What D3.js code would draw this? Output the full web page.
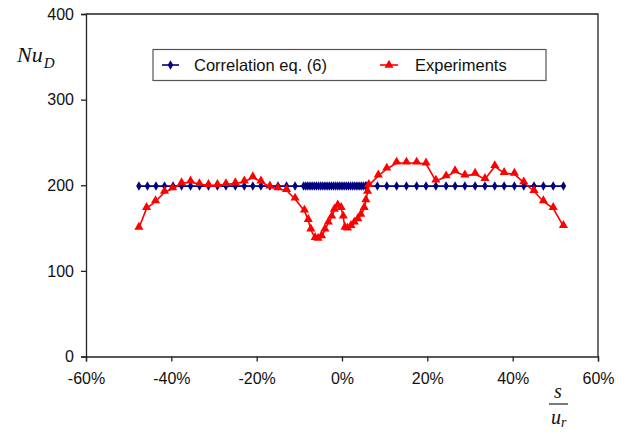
<!DOCTYPE html>
<html>
<head>
<meta charset="utf-8">
<script src="https://cdn.jsdelivr.net/npm/d3@7"></script>
<style>
  body { margin: 0; background: #fff; }
  text { font-family: "Liberation Sans", Arial, sans-serif; }
</style>
</head>
<body>
<div class="canvas"></div>
<script>
// Data (s/u_r in %, Nu_D)
const x_ticks = [-60, -40, -20, 0, 20, 40, 60];
const y_ticks = [0, 100, 200, 300, 400];

const corr_nu = 199;
const corr_x = [-47.6, -45.6, -43.6, -41.6, -39.6, -37.6, -35.5, -33.4, -31.3, -29.2,
  -27.2, -25.0, -22.9, -20.9, -19.0, -16.9, -15.0, -13.0, -11.0, -9.0,
  -8.5, -8.0, -7.5, -7.0, -6.5, -6.0, -5.5, -5.0, -4.5, -4.0, -3.5, -3.0, -2.5, -2.0,
  -1.5, -1.0, -0.5, 0.0, 0.5, 1.0, 1.5, 2.0, 2.5, 3.0, 3.5, 4.0, 4.5, 5.0, 5.5,
  5.8, 8.3, 10.5, 12.8, 15.1, 17.5, 19.7, 22.0, 24.4, 26.5, 28.8, 31.2, 33.5,
  35.8, 38.0, 40.4, 42.6, 45.0, 47.2, 49.5, 51.9];

const exp_x = [-47.6, -45.8, -43.7, -41.6, -39.7, -37.6, -35.5, -33.4, -31.3, -29.2,
  -27.2, -25.0, -22.9, -20.9, -19.0, -16.9, -15.0, -13.0, -11.0,
  -8.8, -7.9, -7.3, -6.3, -5.6, -4.8, -4.0, -3.2, -2.4, -1.8, -1.0, -0.2, 0.3,
  0.7, 1.3, 2.1, 2.9, 3.7, 4.4, 5.2, 5.6, 6.0, 6.3,
  8.5, 10.5, 12.8, 15.1, 17.5, 19.7, 22.0, 24.4, 26.5, 28.8, 31.2, 33.5,
  35.8, 38.0, 40.4, 42.6, 45.0, 47.2, 49.5, 51.9];
const exp_nu = [150, 173, 181, 192, 196, 202, 204, 201, 200, 200,
  201, 202, 204, 209, 204, 198, 196, 194, 184,
  170, 159, 148, 138, 137, 140, 148, 156, 163, 171, 176, 173, 163,
  150, 149, 152, 156, 160, 165, 173, 182, 192, 200,
  211, 219, 226, 226, 226, 225, 205, 210, 216, 211, 213, 207,
  222, 214, 213, 203, 193, 181, 173, 152];

const series_names = ["Correlation eq. (6)", "Experiments"];
const blue = "#000080";
const red = "#ff0000";
const ink = "#111";

// Layout
const chart_w = 624, chart_h = 432;
const plot_left = 86, plot_right = 598, plot_top = 14, plot_bottom = 356.5;

const svg = d3.select(".canvas").append("svg")
  .attr("width", chart_w)
  .attr("height", chart_h);

const xScale = d3.scaleLinear().domain([-60, 60]).range([plot_left, plot_right]);
const yScale = d3.scaleLinear().domain([0, 400]).range([plot_bottom, plot_top]);

// frame (top + right)
svg.append("path")
  .attr("d", `M${plot_left},${plot_top}H${plot_right}V${plot_bottom}`)
  .attr("fill", "none")
  .attr("stroke", "#222")
  .attr("stroke-width", 1.3);

// axes
const xAxis = svg.append("g")
  .attr("transform", `translate(0,${plot_bottom})`)
  .call(d3.axisBottom(xScale).tickValues(x_ticks).tickSize(5).tickPadding(11)
    .tickFormat(d => d + "%"));

const yAxis = svg.append("g")
  .attr("transform", `translate(${plot_left},0)`)
  .call(d3.axisLeft(yScale).tickValues(y_ticks).tickSize(5).tickPadding(7));

[xAxis, yAxis].forEach(function(a) {
  a.select(".domain").attr("stroke", "#222").attr("stroke-width", 1.3);
  a.selectAll(".tick line").attr("stroke", "#222").attr("stroke-width", 1.3);
  a.selectAll(".tick text")
    .attr("font-size", "16px")
    .attr("fill", ink)
    .style("font-family", '"Liberation Sans", Arial, sans-serif');
});

// lines
const line = d3.line().x(d => xScale(d[0])).y(d => yScale(d[1]));
const corr_pts = corr_x.map(x => [x, corr_nu]);
const exp_pts = exp_x.map((x, i) => [x, exp_nu[i]]);

const diamond = d3.symbol().type(d3.symbolDiamond).size(26);
const triangle = d3.symbol().type(d3.symbolTriangle).size(36);

svg.append("path")
  .attr("d", line(corr_pts))
  .attr("fill", "none")
  .attr("stroke", blue)
  .attr("stroke-width", 1.6);

svg.append("g")
  .selectAll("path")
  .data(corr_pts)
  .enter()
  .append("path")
  .attr("d", diamond)
  .attr("transform", d => `translate(${xScale(d[0])},${yScale(d[1])})`)
  .attr("fill", blue);

svg.append("path")
  .attr("d", line(exp_pts))
  .attr("fill", "none")
  .attr("stroke", red)
  .attr("stroke-width", 1.6);

svg.append("g")
  .selectAll("path")
  .data(exp_pts)
  .enter()
  .append("path")
  .attr("d", triangle)
  .attr("transform", d => `translate(${xScale(d[0])},${yScale(d[1]) - 1})`)
  .attr("fill", red);

// legend
const legend = svg.append("g");
legend.append("rect")
  .attr("x", 153).attr("y", 49.5)
  .attr("width", 393).attr("height", 31)
  .attr("fill", "#fff")
  .attr("stroke", "#555")
  .attr("stroke-width", 1.2);

const legend_items = [
  { name: series_names[0], color: blue, symbol: diamond, x0: 162, x1: 179, tx: 194 },
  { name: series_names[1], color: red, symbol: triangle, x0: 380, x1: 398, tx: 415 }
];
legend_items.forEach(function(it) {
  legend.append("line")
    .attr("x1", it.x0).attr("x2", it.x1)
    .attr("y1", 65).attr("y2", 65)
    .attr("stroke", it.color).attr("stroke-width", 1.6);
  legend.append("path")
    .attr("d", it.symbol)
    .attr("transform", `translate(${(it.x0 + it.x1) / 2},65)`)
    .attr("fill", it.color);
  legend.append("text")
    .attr("x", it.tx).attr("y", 71)
    .attr("font-size", "16.5px")
    .attr("fill", ink)
    .text(it.name);
});

// y label  Nu_D
const serif = '"Liberation Serif", "Times New Roman", serif';
const ylab = svg.append("text")
  .attr("x", 17).attr("y", 62)
  .style("font-family", serif)
  .style("font-style", "italic")
  .attr("fill", ink);
ylab.append("tspan").attr("font-size", "22px").text("Nu");
ylab.append("tspan").attr("font-size", "15px").attr("dy", 6).attr("dx", 1).text("D");

// x label  s / u_r
svg.append("text")
  .attr("x", 558).attr("y", 398)
  .attr("text-anchor", "middle")
  .style("font-family", serif)
  .style("font-style", "italic")
  .attr("font-size", "20px")
  .attr("fill", ink)
  .text("s");
svg.append("line")
  .attr("x1", 549).attr("x2", 568)
  .attr("y1", 404).attr("y2", 404)
  .attr("stroke", "#222").attr("stroke-width", 1.2);
const xlab = svg.append("text")
  .attr("x", 551).attr("y", 424)
  .style("font-family", serif)
  .style("font-style", "italic")
  .attr("fill", ink);
xlab.append("tspan").attr("font-size", "20px").text("u");
xlab.append("tspan").attr("font-size", "14px").attr("dy", 3).text("r");
</script>
</body>
</html>
